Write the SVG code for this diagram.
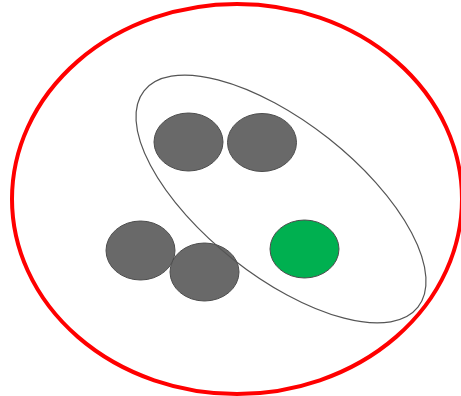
<svg xmlns="http://www.w3.org/2000/svg" width="461" height="396" viewBox="0 0 461 396">
<style>
.gray{fill:#696969;stroke:#4d4d4d;stroke-width:1}
.green{fill:#00b050;stroke:#4d4d4d;stroke-width:1}
</style>
<rect width="461" height="396" fill="#fff"/>
<g id="outer"><ellipse cx="237" cy="199" rx="225" ry="195" fill="none" stroke="#ff0000" stroke-width="4"/></g>
<g id="n1"><ellipse class="gray" cx="188.5" cy="142" rx="34.5" ry="29"/></g>
<g id="n2"><ellipse class="gray" cx="262" cy="142.5" rx="34.5" ry="29"/></g>
<g id="n3"><ellipse class="gray" cx="140.5" cy="250.5" rx="34.5" ry="29.5"/></g>
<g id="n4"><ellipse class="gray" cx="204.5" cy="272" rx="34.5" ry="29"/></g>
<g id="n5"><ellipse class="green" cx="304.5" cy="249" rx="34.5" ry="29"/></g>
<g id="group"><ellipse cx="281" cy="199" rx="174.5" ry="77" transform="rotate(38.3 281 199)" fill="none" stroke="#555" stroke-width="1.2"/></g>
<g id="connectors"></g>
</svg>
